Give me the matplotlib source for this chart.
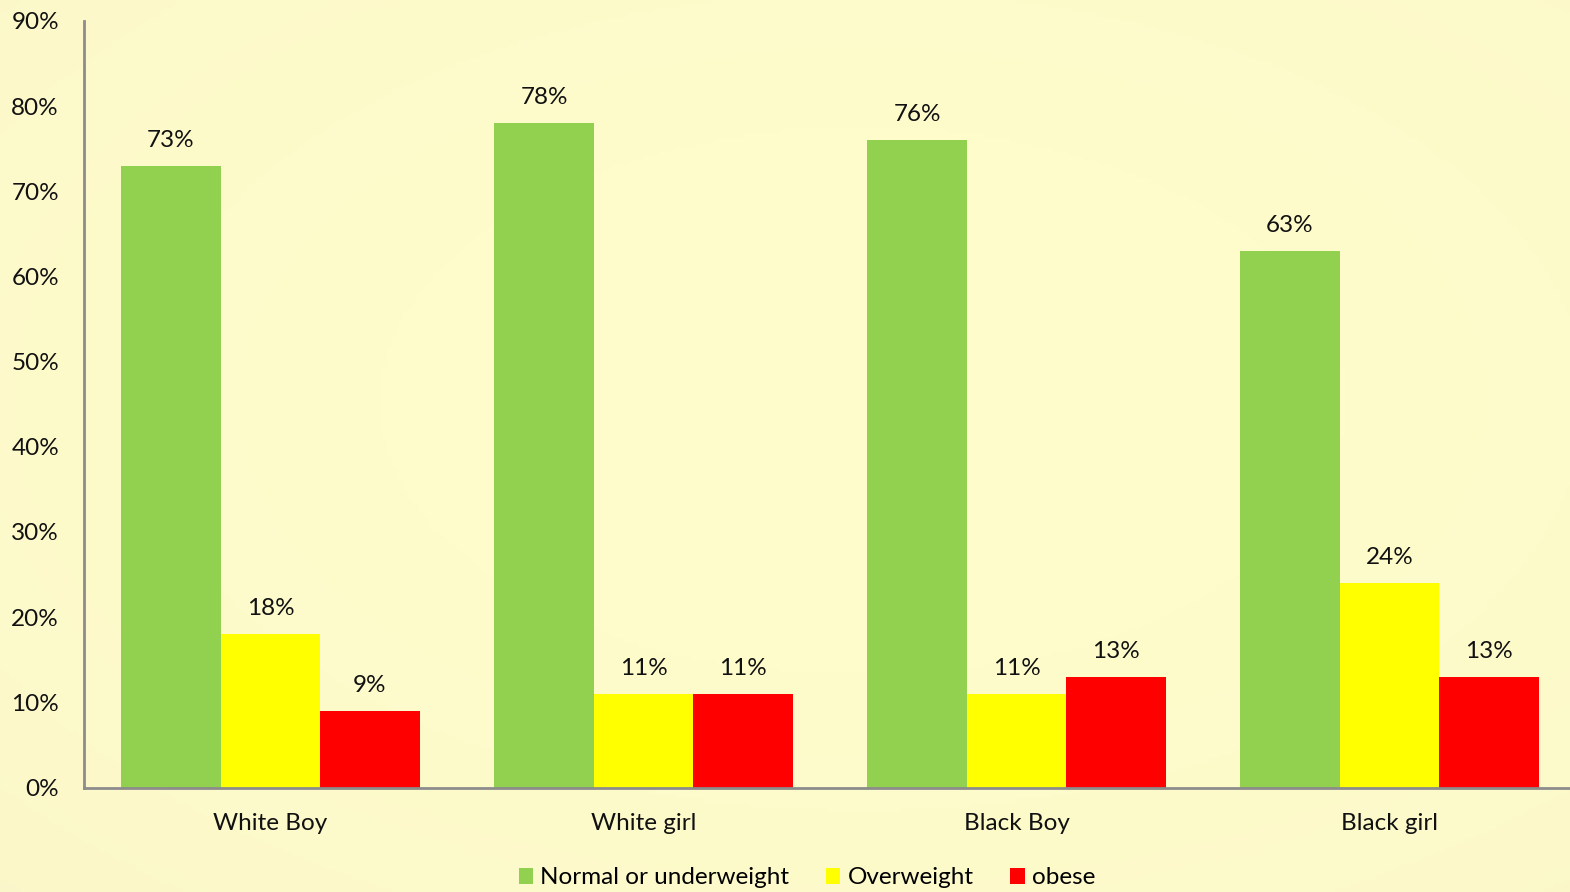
import matplotlib
matplotlib.use("Agg")
import matplotlib.pyplot as plt
import numpy as np
from matplotlib.patches import Patch

categories = ["White Boy", "White girl", "Black Boy", "Black girl"]
series_names = ["Normal or underweight", "Overweight", "obese"]
normal = [73, 78, 76, 63]
overweight = [18, 11, 11, 24]
obese = [9, 11, 13, 13]
yticks = [0, 10, 20, 30, 40, 50, 60, 70, 80, 90]

colors = ["#92D050", "#FFFF00", "#FF0000"]
bg = "#FFFCCB"

plt.rcParams['font.family'] = ['Lato', 'DejaVu Sans']
FS = 17.5

fig = plt.figure(figsize=(15.70, 8.92), dpi=100)
fig.patch.set_facecolor(bg)

# subtle background gradient
bgax = fig.add_axes([0, 0, 1, 1], zorder=-10)
yy, xx = np.mgrid[0:1:200j, 0:1:300j]
r = np.sqrt(((xx - 0.55) / 0.9) ** 2 + ((yy - 0.55) / 0.9) ** 2)
base = np.array([1.0, 0.992, 0.80])
edge = np.array([0.98, 0.96, 0.785])
t = np.clip(r, 0, 1)[..., None] ** 2
img = base * (1 - t) + edge * t
bgax.imshow(img, extent=[0, 1, 0, 1], aspect='auto', origin='lower')
bgax.axis('off')

W, H = 1570, 892
left = 84 / W
bottom = 1 - 787.5 / H
top = 1 - 21 / H
right = 1576 / W
ax = fig.add_axes([left, bottom, right - left, top - bottom])
ax.set_facecolor('none')

x = np.arange(len(categories))
w = 0.8 / 3
for i, (vals, name) in enumerate(zip([normal, overweight, obese], series_names)):
    pos = x + (i - 1) * w
    bars = ax.bar(pos, vals, width=w, color=colors[i], label=name, linewidth=0)
    for b, v in zip(bars, vals):
        ax.annotate(f"{v}%", (b.get_x() + b.get_width() / 2, v),
                    xytext=(0, 11), textcoords='offset points',
                    ha='center', va='bottom', fontsize=FS, color='#111111')

ax.set_xlim(-0.5, len(categories) - 0.5)
ax.set_ylim(0, 90)
ax.set_yticks(yticks)
ax.set_yticklabels([f"{v}%" for v in yticks], fontsize=FS, color='#111111')
ax.set_xticks(x)
ax.set_xticklabels(categories, fontsize=FS, color='#111111')
ax.tick_params(axis='both', length=0)
ax.tick_params(axis='y', pad=18)
ax.tick_params(axis='x', pad=18)
for s in ['top', 'right']:
    ax.spines[s].set_visible(False)
for s in ['left', 'bottom']:
    ax.spines[s].set_color('#8C8C8C')
    ax.spines[s].set_linewidth(2)

handles = [Patch(facecolor=c, label=n) for c, n in zip(colors, series_names)]
fig.legend(handles=handles, loc='center', bbox_to_anchor=(0.514, 1 - 878 / H),
           ncol=3, frameon=False, fontsize=FS, handlelength=0.6, handleheight=0.6,
           handletextpad=0.3, columnspacing=1.5)

fig.savefig("out.png", dpi=100, facecolor=bg)
